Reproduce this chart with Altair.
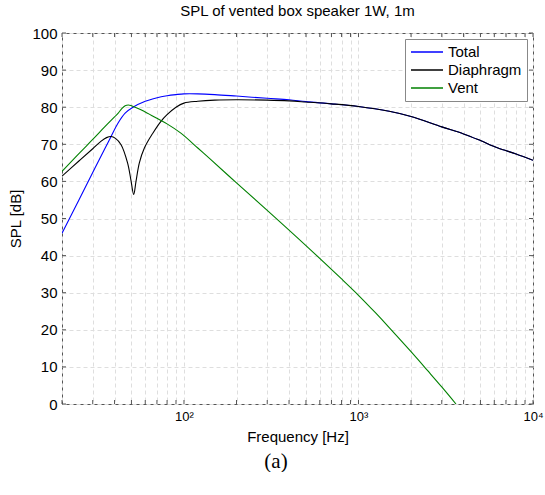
import altair as alt
import pandas as pd

# ---- data ----
total_f = [20, 25, 30, 35, 38.2, 42, 46, 51, 60, 66, 74, 80, 90, 100, 120, 150, 200, 300, 400, 500,
           700, 1000, 1500, 2000, 3000, 4000, 5000, 6300, 8000, 10000]
total_db = [46.0, 55.0, 62.4, 68.6, 72.1, 75.8, 78.4, 80.0, 81.6, 82.2, 82.8, 83.1, 83.4, 83.6, 83.6,
            83.4, 83.0, 82.4, 82.0, 81.5, 80.9, 80.2, 78.9, 77.5, 74.7, 72.8, 71.0, 69.0, 67.4, 65.7]

diaph_f = [20, 25, 30, 33.4, 36, 38.2, 40.5, 43.6, 47.5, 49.6, 51.5, 53.1, 55.5, 59.3, 66.3, 73.8,
           80, 90, 100, 120, 150, 200, 300, 400, 500, 700, 1000, 1500, 2000, 3000, 4000, 5000,
           6300, 8000, 10000]
diaph_db = [61.4, 65.5, 68.8, 70.8, 71.8, 72.1, 71.6, 69.9, 65.0, 60.5, 56.5, 60.0, 65.0, 69.0,
            73.0, 76.2, 78.0, 80.0, 81.1, 81.6, 81.9, 82.0, 81.9, 81.7, 81.4, 80.9, 80.2, 78.9,
            77.5, 74.7, 72.8, 71.0, 69.0, 67.4, 65.7]

vent_f = [20, 25, 30, 35, 40, 42, 44, 46, 48, 50, 55, 60, 70, 80, 96, 120, 140, 200, 300, 500,
          800, 1000, 1250, 1500, 2000, 2500, 3000, 3620]
vent_db = [62.7, 67.5, 71.3, 74.6, 77.4, 78.4, 79.6, 80.4, 80.6, 80.4, 79.6, 78.7, 77.0, 75.5,
           73.0, 69.0, 66.2, 59.6, 52.2, 42.7, 33.7, 29.3, 24.6, 20.6, 14.1, 8.9, 4.6, 0.0]

series = ["Total", "Diaphragm", "Vent"]
colors = ["#0000ff", "#000000", "#008000"]

x_ticks = [20, 30, 40, 50, 60, 70, 80, 90, 100, 200, 300, 400, 500, 600, 700, 800, 900,
           1000, 2000, 3000, 4000, 5000, 6000, 7000, 8000, 9000, 10000]
y_ticks = [0, 10, 20, 30, 40, 50, 60, 70, 80, 90, 100]

rows = []
for i, (name, fs, ds) in enumerate([("Total", total_f, total_db), ("Diaphragm", diaph_f, diaph_db),
                                    ("Vent", vent_f, vent_db)]):
    for f, d in zip(fs, ds):
        rows.append({"freq": f, "db": d, "series": name, "k": i})
df = pd.DataFrame(rows)

W, H = 471, 371
FONT = "Liberation Sans"
FRAME = "#555555"

xscale = alt.Scale(type="log", domain=[20, 10000], nice=False)
yscale = alt.Scale(domain=[0, 100], nice=False)

x_axis = alt.Axis(values=x_ticks, ticks=False, domain=False,
                  labelExpr="datum.value == 100 ? '10²' : datum.value == 1000 ? '10³' : datum.value == 10000 ? '10⁴' : ''",
                  labelFontSize=13, labelPadding=6, titleFontSize=15, titlePadding=6,
                  labelOverlap=False, grid=True, gridDash=[4, 3], gridColor="#dedede",
                  labelFlush=False)
y_axis = alt.Axis(values=y_ticks, ticks=False, domain=False, labelFontSize=15,
                  labelPadding=5, titleFontSize=15, titlePadding=8, labelOverlap=False,
                  grid=True, gridDash=[4, 3], gridColor="#dedede")

X = alt.X("freq:Q", scale=xscale, title="Frequency [Hz]", axis=x_axis)
Y = alt.Y("db:Q", scale=yscale, title="SPL [dB]", axis=y_axis)

lines = alt.Chart(df).mark_line(strokeWidth=1.1, interpolate="catmull-rom", clip=True).encode(
    x=X, y=Y,
    color=alt.Color("series:N", scale=alt.Scale(domain=series, range=colors),
                    sort=series,
                    legend=alt.Legend(title=None, orient="top-right", offset=6,
                                      fillColor="white", strokeColor="#888888",
                                      padding=5, symbolType="stroke", symbolSize=1024,
                                      symbolStrokeWidth=1.5, labelFontSize=15,
                                      clipHeight=16, rowPadding=2, labelOffset=4)),
    detail="k:N",
)

xt = pd.DataFrame({"freq": x_ticks})
yt = pd.DataFrame({"db": y_ticks})

xtick_bottom = alt.Chart(xt).mark_rule(color=FRAME, strokeWidth=1).encode(
    x=X, y=alt.value(H), y2=alt.value(H - 4))
xtick_top = alt.Chart(xt).mark_rule(color=FRAME, strokeWidth=1).encode(
    x=X, y=alt.value(0), y2=alt.value(4))
ytick_left = alt.Chart(yt).mark_rule(color=FRAME, strokeWidth=1).encode(
    y=Y, x=alt.value(0), x2=alt.value(4))
ytick_right = alt.Chart(yt).mark_rule(color=FRAME, strokeWidth=1).encode(
    y=Y, x=alt.value(W), x2=alt.value(W - 4))

main = alt.layer(lines, xtick_bottom, xtick_top, ytick_left, ytick_right).properties(
    width=W, height=H,
    title=alt.Title("SPL of vented box speaker 1W, 1m", fontSize=15, fontWeight="normal",
                    font=FONT, offset=7, color="#000000"))

chart = alt.vconcat(main).properties(
    title=alt.Title("(a)", orient="bottom", font="Liberation Serif", fontSize=21,
                    fontWeight="normal", offset=6, anchor="middle", color="#000000"),
    padding={"left": 8, "top": 3, "right": 0, "bottom": 0},
).configure(font=FONT).configure_view(stroke=FRAME, strokeWidth=1).configure_axis(
    labelFont=FONT, titleFont=FONT, labelColor="#000000", titleColor="#000000",
    titleFontWeight="normal").configure_legend(labelFont=FONT, labelColor="#000000")

chart.save("out.html", embed_options={"renderer": "svg", "actions": False})
